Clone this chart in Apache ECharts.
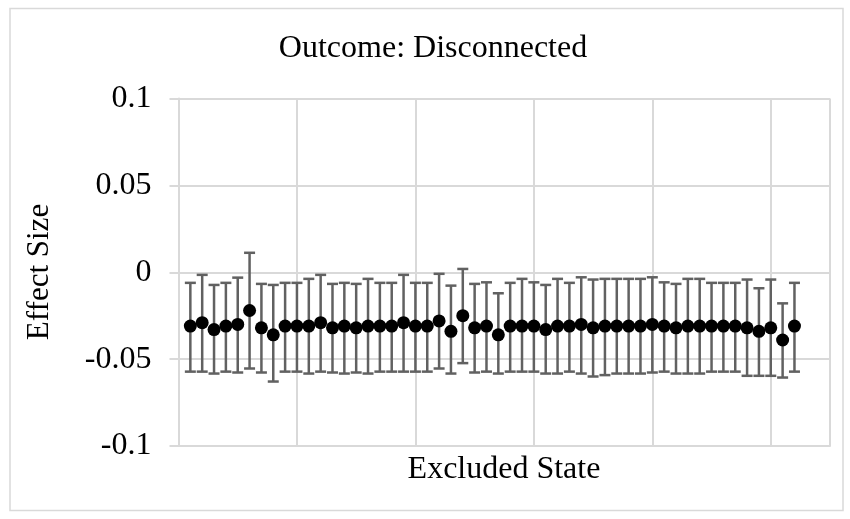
<!DOCTYPE html>
<html>
<head>
<meta charset="utf-8">
<script src="https://cdn.jsdelivr.net/npm/echarts@6/dist/echarts.min.js"></script>
<style>
  html, body { margin: 0; padding: 0; background: #ffffff; }
  #chart { width: 850px; height: 519px; }
</style>
</head>
<body>
<div id="chart"></div>
<script>
// Leave-one-state-out estimates: one point per excluded state, in plotting order
const effectSize = [
  -0.031, -0.029, -0.033, -0.031, -0.030, -0.022, -0.032, -0.036, -0.031,
  -0.031, -0.031, -0.029, -0.032, -0.031, -0.032, -0.031, -0.031, -0.031,
  -0.029, -0.031, -0.031, -0.028, -0.034, -0.025, -0.032, -0.031, -0.036,
  -0.031, -0.031, -0.031, -0.033, -0.031, -0.031, -0.030, -0.032, -0.031,
  -0.031, -0.031, -0.031, -0.030, -0.031, -0.032, -0.031, -0.031, -0.031,
  -0.031, -0.031, -0.032, -0.034, -0.032, -0.039, -0.031
];
const upperBound = [
  -0.0061, -0.0015, -0.0073, -0.0061, -0.0031, 0.0112, -0.0067, -0.0073, -0.0061,
  -0.0061, -0.0038, -0.0015, -0.0067, -0.0061, -0.0067, -0.0038, -0.0061, -0.0061,
  -0.0015, -0.0061, -0.0061, -0.0009, -0.0077, 0.0019, -0.0067, -0.0058, -0.0121,
  -0.0061, -0.0038, -0.0058, -0.0073, -0.0038, -0.0061, -0.0029, -0.0042, -0.0038,
  -0.0038, -0.0038, -0.0038, -0.0029, -0.0058, -0.0067, -0.0038, -0.0038, -0.0061,
  -0.0061, -0.0061, -0.0042, -0.0092, -0.0042, -0.0179, -0.0061
];
const lowerBound = [
  -0.0572, -0.0572, -0.0583, -0.0572, -0.0577, -0.0554, -0.0577, -0.0629, -0.0572,
  -0.0572, -0.0583, -0.0572, -0.0577, -0.0583, -0.0577, -0.0583, -0.0572, -0.0572,
  -0.0572, -0.0572, -0.0572, -0.0554, -0.0583, -0.0523, -0.0577, -0.0572, -0.0583,
  -0.0572, -0.0572, -0.0572, -0.0583, -0.0583, -0.0572, -0.0583, -0.0600, -0.0592,
  -0.0583, -0.0583, -0.0583, -0.0577, -0.0572, -0.0583, -0.0583, -0.0583, -0.0572,
  -0.0572, -0.0572, -0.0596, -0.0596, -0.0596, -0.0606, -0.0572
];
const yTicks = [-0.1, -0.05, 0, 0.05, 0.1];

const chartTitle = 'Outcome: Disconnected';
const xName = 'Excluded State';
const yName = 'Effect Size';

const serif = '"Liberation Serif", "Times New Roman", serif';
const gridColor = '#d9d9d9';
const barColor = '#616161';

const pointData = effectSize.map((v, i) => [i + 1, v]);
const barData = effectSize.map((v, i) => [i + 1, lowerBound[i], upperBound[i]]);

const chart = echarts.init(document.getElementById('chart'));

chart.setOption({
  animation: false,
  backgroundColor: '#ffffff',
  title: {
    text: chartTitle,
    left: 428,
    top: 28,
    textAlign: 'center',
    textStyle: { fontFamily: serif, fontSize: 32, fontWeight: 'normal', color: '#000000' }
  },
  grid: { left: 178.5, right: 20, top: 98.5, bottom: 73, containLabel: false },
  xAxis: {
    type: 'value',
    min: 0,
    max: 55,
    interval: 10,
    axisLine: { show: true, onZero: false, lineStyle: { color: gridColor, width: 2 } },
    axisTick: { show: false },
    axisLabel: { show: false },
    splitLine: { show: true, lineStyle: { color: gridColor, width: 2 } }
  },
  yAxis: {
    type: 'value',
    min: -0.1,
    max: 0.1,
    interval: 0.05,
    axisLine: { show: true, onZero: false, lineStyle: { color: gridColor, width: 2 } },
    axisTick: { show: true, length: 9, lineStyle: { color: gridColor, width: 2 } },
    axisLabel: {
      margin: 27,
      fontFamily: serif,
      fontSize: 32,
      color: '#000000',
      formatter: v => {
        const t = yTicks.find(k => Math.abs(k - v) < 1e-9);
        return String(t === undefined ? v : t);
      }
    },
    splitLine: { show: true, lineStyle: { color: gridColor, width: 2 } }
  },
  graphic: [
    {
      type: 'rect',
      silent: true,
      shape: { x: 10, y: 8.5, width: 833, height: 502 },
      style: { fill: 'none', stroke: gridColor, lineWidth: 1.5 }
    },
    {
      type: 'text',
      x: 40, y: 272,
      rotation: Math.PI / 2,
      style: { text: yName, font: '31px ' + serif, fill: '#000000', align: 'center', verticalAlign: 'middle' }
    },
    {
      type: 'text',
      x: 504, y: 470,
      style: { text: xName, font: '32px ' + serif, fill: '#000000', align: 'center', verticalAlign: 'middle' }
    }
  ],
  series: [
    {
      type: 'custom',
      name: 'interval',
      data: barData,
      z: 2,
      renderItem: (params, api) => {
        const x = api.value(0);
        const lo = api.coord([x, api.value(1)]);
        const hi = api.coord([x, api.value(2)]);
        const half = 5.5;
        const style = { stroke: barColor, lineWidth: 2.5, fill: 'none' };
        return {
          type: 'group',
          children: [
            { type: 'line', shape: { x1: lo[0], y1: lo[1], x2: hi[0], y2: hi[1] }, style },
            { type: 'line', shape: { x1: hi[0] - half, y1: hi[1], x2: hi[0] + half, y2: hi[1] }, style },
            { type: 'line', shape: { x1: lo[0] - half, y1: lo[1], x2: lo[0] + half, y2: lo[1] }, style }
          ]
        };
      }
    },
    {
      type: 'scatter',
      name: 'estimate',
      data: pointData,
      z: 3,
      symbol: 'circle',
      symbolSize: 13,
      itemStyle: { color: '#000000', opacity: 1 }
    }
  ]
});
</script>
</body>
</html>
